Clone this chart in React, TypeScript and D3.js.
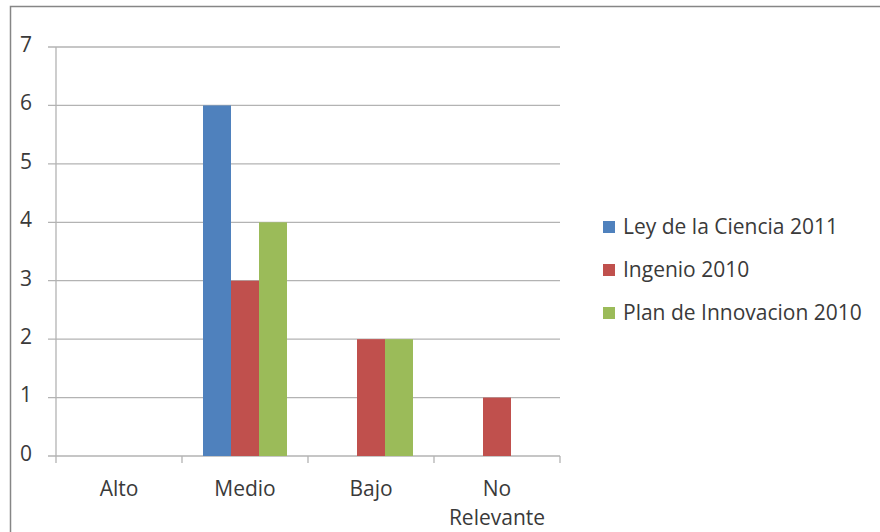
import React from "react";
import * as d3 from "d3";

const categories = ["Alto", "Medio", "Bajo", "No Relevante"];
const seriesNames = ["Ley de la Ciencia 2011", "Ingenio 2010", "Plan de Innovacion 2010"];
const leyCiencia = [0, 6, 0, 0];
const ingenio = [0, 3, 2, 1];
const planInnovacion = [0, 4, 2, 0];
const seriesColors = ["#4F81BD", "#C0504D", "#9BBB59"];
const yTicks = [0, 1, 2, 3, 4, 5, 6, 7];

const W = 880;
const H = 532;
const plot = { left: 56, right: 560, top: 47, bottom: 456 };
const FONT = "'Open Sans', 'Liberation Sans', sans-serif";
const FS = 21;

export default function App() {
  const series = [leyCiencia, ingenio, planInnovacion];
  const x = d3.scaleBand<string>().domain(categories).range([plot.left, plot.right]);
  const inner = d3
    .scaleBand<number>()
    .domain([0, 1, 2])
    .range([0, x.bandwidth()])
    .paddingInner(0)
    .paddingOuter(0.75);
  const y = d3.scaleLinear().domain([0, 7]).range([plot.bottom, plot.top]);
  const textColor = "#3a3a3a";
  const gridColor = "#b3b3b3";

  return (
    <svg width={W} height={H} style={{ position: "absolute", left: 0, top: 0 }}>
      <rect x={0} y={0} width={W} height={H} fill="#fff" />
      <rect x={10.5} y={6.5} width={W + 10} height={H + 10} fill="none" stroke="#868686" strokeWidth={1.5} />
      {/* gridlines and y ticks */}
      {yTicks.map((t) => (
        <g key={t}>
          <line x1={plot.left - 8} x2={plot.right} y1={y(t)} y2={y(t)} stroke={gridColor} strokeWidth={1.3} />
          <text x={32} y={y(t) - 2.5} dy="0.35em" textAnchor="end" fontFamily={FONT} fontSize={FS} fill={textColor}>
            {t}
          </text>
        </g>
      ))}
      <line x1={plot.left} x2={plot.left} y1={plot.top} y2={plot.bottom} stroke={gridColor} strokeWidth={1.3} />
      {/* category ticks */}
      {[...categories.map((c) => x(c) as number), plot.right].map((px, i) => (
        <line key={i} x1={px} x2={px} y1={plot.bottom} y2={plot.bottom + 7} stroke={gridColor} strokeWidth={1.3} />
      ))}
      {/* bars */}
      {series.map((vals, si) =>
        vals.map((v, ci) =>
          v > 0 ? (
            <rect
              key={`${si}-${ci}`}
              x={(x(categories[ci]) as number) + (inner(si) as number)}
              y={y(v)}
              width={inner.bandwidth()}
              height={y(0) - y(v)}
              fill={seriesColors[si]}
            />
          ) : null
        )
      )}
      {/* category labels */}
      {categories.map((c) => {
        const cx = (x(c) as number) + x.bandwidth() / 2;
        const parts = c === "No Relevante" ? ["No", "Relevante"] : [c];
        return (
          <text key={c} x={cx} y={489} textAnchor="middle" fontFamily={FONT} fontSize={FS} fill={textColor}>
            {parts.map((p, i) => (
              <tspan key={i} x={cx} dy={i === 0 ? "0.35em" : 29}>
                {p}
              </tspan>
            ))}
          </text>
        );
      })}
      {/* legend */}
      {seriesNames.map((name, i) => (
        <g key={name} transform={`translate(603, ${227 + i * 43})`}>
          <rect x={0} y={-6} width={12} height={12} fill={seriesColors[i]} />
          <text x={20} y={0} dy="0.35em" fontFamily={FONT} fontSize={FS} fill={textColor}>
            {name}
          </text>
        </g>
      ))}
    </svg>
  );
}
